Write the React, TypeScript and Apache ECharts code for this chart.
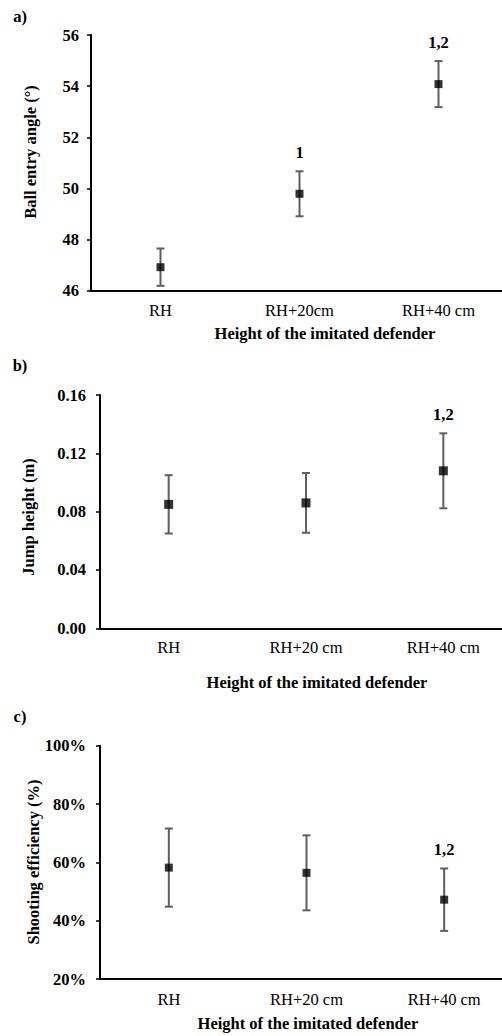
import React, { useEffect, useRef } from "react";
import * as echarts from "echarts";

const categoriesA = ["RH", "RH+20cm", "RH+40 cm"];
const categoriesBC = ["RH", "RH+20 cm", "RH+40 cm"];

const meanA = [46.92, 49.79, 54.08];
const errA = [0.73, 0.88, 0.9];
const annA = ["", "1", "1,2"];

const meanB = [0.085, 0.086, 0.108];
const errB = [0.02, 0.0205, 0.0257];
const annB = ["", "", "1,2"];

const meanC = [58.2, 56.4, 47.2];
const errC = [13.4, 12.85, 10.7];
const annC = ["", "", "1,2"];

const ticksA = { min: 46, max: 56, interval: 2 };
const ticksB = { min: 0, max: 0.16, interval: 0.04 };
const ticksC = { min: 20, max: 100, interval: 20 };

const panelLabels = ["a)", "b)", "c)"];
const yNames = ["Ball entry angle (°)", "Jump height (m)", "Shooting efficiency (%)"];
const xName = "Height of the imitated defender";

const FONT = "'Liberation Serif', 'Times New Roman', serif";
const FS = 16.5;
const BAR = "#5e5e5e";

function errSeries(idx: number, means: number[], errs: number[], anns: string[]) {
  return {
    type: "custom",
    xAxisIndex: idx,
    yAxisIndex: idx,
    z: 2,
    data: means.map((m, i) => [i, m, errs[i]]),
    renderItem: (params: any, api: any) => {
      const x = api.value(0);
      const m = api.value(1);
      const e = api.value(2);
      const top = api.coord([x, m + e]);
      const bot = api.coord([x, m - e]);
      const cw = 4;
      const children: any[] = [
        { type: "line", shape: { x1: top[0], y1: top[1], x2: bot[0], y2: bot[1] }, style: { stroke: BAR, lineWidth: 2 } },
        { type: "line", shape: { x1: top[0] - cw, y1: top[1], x2: top[0] + cw, y2: top[1] }, style: { stroke: BAR, lineWidth: 2 } },
        { type: "line", shape: { x1: bot[0] - cw, y1: bot[1], x2: bot[0] + cw, y2: bot[1] }, style: { stroke: BAR, lineWidth: 2 } },
      ];
      const a = anns[params.dataIndex];
      if (a) {
        children.push({
          type: "text",
          x: top[0],
          y: top[1] - 19,
          style: { text: a, fill: "#000", font: `bold ${FS}px ${FONT}`, textAlign: "center", textVerticalAlign: "middle" },
        });
      }
      return { type: "group", children };
    },
  };
}

function scatterSeries(idx: number, means: number[], size: number) {
  return {
    type: "scatter",
    xAxisIndex: idx,
    yAxisIndex: idx,
    z: 3,
    symbol: "rect",
    symbolSize: size,
    itemStyle: { color: "#000" },
    data: means.map((m, i) => [i, m]),
  };
}

function xAxis(idx: number, cats: string[], margin: number) {
  return {
    type: "category",
    gridIndex: idx,
    data: cats,
    boundaryGap: true,
    axisLine: { lineStyle: { color: "#000", width: 2 } },
    axisTick: { show: false },
    axisLabel: { color: "#000", fontFamily: FONT, fontSize: FS, margin },
    splitLine: { show: false },
  };
}

function yAxis(idx: number, t: any, margin: number, fmt: (v: number) => string) {
  return {
    type: "value",
    gridIndex: idx,
    min: t.min,
    max: t.max,
    interval: t.interval,
    axisLine: { show: true, lineStyle: { color: "#000", width: 2 } },
    axisTick: { show: true, inside: false, length: 4, lineStyle: { color: "#000", width: 1.5 } },
    axisLabel: { color: "#000", fontFamily: FONT, fontSize: FS, fontWeight: "bold", margin, formatter: fmt },
    splitLine: { show: false },
  };
}

function txt(text: string, x: number, y: number, rot = 0) {
  return {
    type: "text",
    x,
    y,
    rotation: rot,
    style: { text, fill: "#000", font: `bold ${FS}px ${FONT}`, textAlign: "center", textVerticalAlign: "middle" },
  };
}

export default function App() {
  const ref = useRef<HTMLDivElement>(null);
  useEffect(() => {
    if (!ref.current) return;
    const chart = echarts.init(ref.current, undefined, { renderer: "svg" });
    chart.setOption({
      animation: false,
      backgroundColor: "#fff",
      grid: [
        { left: 91, top: 35, width: 417, height: 255.7 },
        { left: 100, top: 395, width: 412, height: 233.3 },
        { left: 100, top: 745.7, width: 413, height: 233.3 },
      ],
      xAxis: [xAxis(0, categoriesA, 11), xAxis(1, categoriesBC, 11), xAxis(2, categoriesBC, 12)],
      yAxis: [
        yAxis(0, ticksA, 12, (v: number) => String(v)),
        yAxis(1, ticksB, 14, (v: number) => v.toFixed(2)),
        yAxis(2, ticksC, 14, (v: number) => `${v}%`),
      ],
      series: [
        errSeries(0, meanA, errA, annA),
        scatterSeries(0, meanA, 8),
        errSeries(1, meanB, errB, annB),
        scatterSeries(1, meanB, 9),
        errSeries(2, meanC, errC, annC),
        scatterSeries(2, meanC, 8),
      ],
      graphic: [
        txt(panelLabels[0], 20, 16),
        txt(panelLabels[1], 20, 365),
        txt(panelLabels[2], 20, 716),
        txt(yNames[0], 30, 152, Math.PI / 2),
        txt(yNames[1], 28, 517, Math.PI / 2),
        txt(yNames[2], 33, 862, Math.PI / 2),
        txt(xName, 325, 333),
        txt(xName, 317, 682),
        txt(xName, 308, 1023),
      ],
    });
    return () => chart.dispose();
  }, []);
  return (
    <div style={{ position: "fixed", left: 0, top: 0, width: 502, height: 1036, overflow: "hidden", background: "#fff" }}>
      <div ref={ref} style={{ width: 520, height: 1036 }} />
    </div>
  );
}
